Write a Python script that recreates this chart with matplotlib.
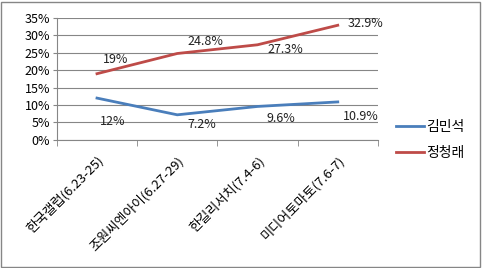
import numpy as np
import matplotlib.pyplot as plt
from matplotlib.patches import Rectangle

plt.rcParams['font.family'] = ['Noto Sans CJK KR', 'DejaVu Sans']

# poll data
categories = ['한국갤럽(6.23-25)', '조원씨엔아이(6.27-29)', '한길리서치(7.4-6)', '미디어토마토(7.6-7)']
kim = [12, 7.2, 9.6, 10.9]
jung = [19, 24.8, 27.3, 32.9]
kim_labels = ['12%', '7.2%', '9.6%', '10.9%']
jung_labels = ['19%', '24.8%', '27.3%', '32.9%']

# label offsets in pixels (dx, dy up)
kim_off = [(16, -23), (25, -10), (23, -12), (23, -15)]
jung_off = [(19, 14), (28, 12), (28, -5), (28, 2)]

blue = '#4A7EBB'
red = '#BE4B48'

fig = plt.figure(figsize=(4.82, 2.68), dpi=100)
ax = fig.add_axes([0.118, 0.478, 0.666, 0.455])

x = np.arange(len(categories))
ax.plot(x, kim, color=blue, linewidth=2, label='김민석')
ax.plot(x, jung, color=red, linewidth=2, label='정청래')

for xi, v, t, o in zip(x, kim, kim_labels, kim_off):
    ax.annotate(t, (xi, v), xytext=o, textcoords='offset pixels',
                ha='center', va='center', fontsize=9, color='#222222')
for xi, v, t, o in zip(x, jung, jung_labels, jung_off):
    ax.annotate(t, (xi, v), xytext=o, textcoords='offset pixels',
                ha='center', va='center', fontsize=9, color='#222222')

ax.set_xlim(-0.5, len(categories) - 0.5)
ax.set_ylim(0, 35)
ax.set_yticks(np.arange(0, 36, 5))
ax.set_yticklabels([f'{v}%' for v in range(0, 36, 5)], fontsize=9)
ax.set_xticks(x)
ax.set_xticklabels(categories, rotation=45, ha='right', rotation_mode='anchor', fontsize=9.5)
ax.tick_params(axis='x', length=0, pad=10)
ax.set_xticks(np.arange(-0.5, len(categories), 1), minor=True)
ax.tick_params(axis='x', which='minor', length=4, color='#868686')
ax.tick_params(axis='y', length=3, color='#868686', pad=2)

ax.yaxis.grid(True, color='#868686', linewidth=0.8)
ax.set_axisbelow(True)
for s in ['top', 'right']:
    ax.spines[s].set_visible(False)
for s in ['left', 'bottom']:
    ax.spines[s].set_color('#868686')

ax.legend(loc='center left', bbox_to_anchor=(1.035, 0.0), frameon=False,
          fontsize=10, handlelength=2.0, handletextpad=0.2, labelspacing=0.9,
          borderpad=0)

fig.patches.append(Rectangle((0.002, 0.004), 0.994, 0.99, transform=fig.transFigure,
                             fill=False, edgecolor='#868686', linewidth=1))

fig.savefig('out.png', dpi=100)
